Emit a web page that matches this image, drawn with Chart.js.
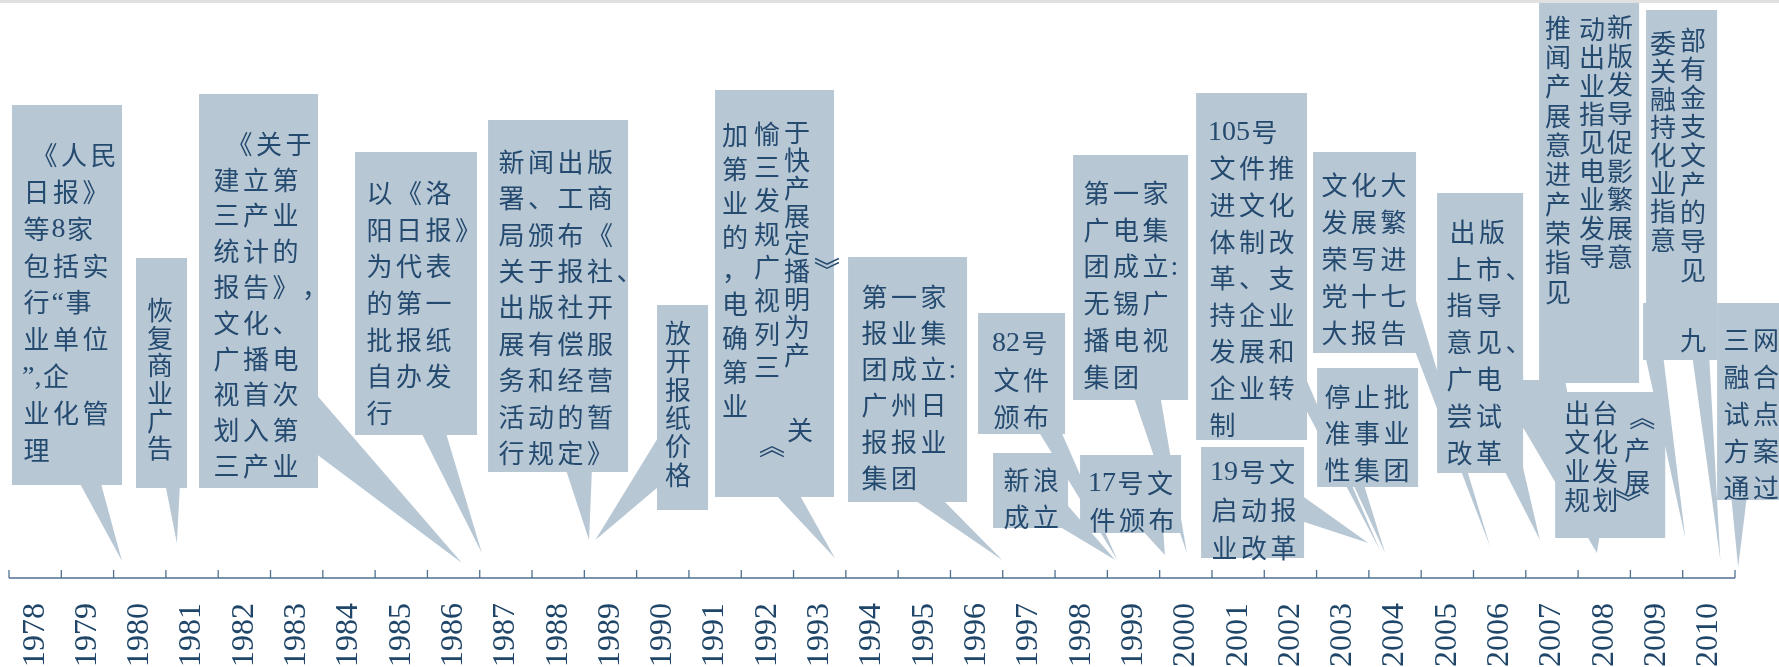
<!DOCTYPE html>
<html>
<head>
<meta charset="utf-8">
<script src="https://cdn.jsdelivr.net/npm/chart.js@4.4.1/dist/chart.umd.min.js"></script>
<style>
  html, body { margin: 0; padding: 0; background: #fff; }
  #wrap { width: 1779px; height: 667px; position: relative; }
</style>
</head>
<body>
<div id="wrap"><canvas id="timeline"></canvas></div>
<script>
// tick labels on the time axis
const years = ['1978', '1979', '1980', '1981', '1982', '1983', '1984', '1985', '1986', '1987',
  '1988', '1989', '1990', '1991', '1992', '1993', '1994', '1995', '1996', '1997', '1998',
  '1999', '2000', '2001', '2002', '2003', '2004', '2005', '2006', '2007', '2008', '2009', '2010'];

// where each callout points on the axis (year position, height above the axis)
const tipYear = [1979.66, 1980.71, 1986.16, 1986.54, 1988.59, 1988.71, 1993.29, 1996.49,
  1998.69, 1998.65, 1999.60, 2000.02, 2003.71, 2003.49, 2005.82, 2003.81, 2006.77,
  2007.86, 2009.55, 2010.22, 2010.56, 2007.86];
const tipHeight = [17, 35, 15, 25, 38, 38, 20, 18, 18, 18, 23, 25, 28, 35, 31, 25, 38, 25, 40, 18, 11, 25];

// callout box extents: [year left, year right, top, bottom] (height above axis)
const boxes = [
  [1977.557, 1979.661, 473, 93], [1979.928, 1980.903, 320, 90], [1981.133, 1983.408, 484, 90],
  [1984.116, 1986.448, 426, 143], [1986.659, 1989.336, 458, 106], [1989.890, 1990.865, 273, 68],
  [1990.999, 1993.274, 488, 81], [1993.542, 1995.817, 321, 76], [1996.028, 1997.691, 265, 144],
  [1996.315, 1997.749, 125, 50], [1997.978, 1999.909, 123, 45], [1997.844, 2000.043, 423, 178],
  [2000.196, 2002.318, 485, 138], [2000.292, 2002.261, 131, 20], [2002.433, 2004.402, 426, 225],
  [2002.510, 2004.441, 210, 91], [2004.804, 2006.449, 385, 105], [2006.754, 2008.666, 575, 195],
  [2008.800, 2010.158, 568, 218], [2008.743, 2010.158, 275, 218], [2010.158, 2011.344, 275, 78],
  [2007.062, 2009.166, 186, 40]
];
// pointer base: two points [year, height, year, height]
const bases = [
  [1978.819, 98, 1979.240, 98], [1980.483, 95, 1980.770, 95], [1983.35, 185, 1983.35, 125],
  [1985.358, 148, 1985.837, 148], [1988.131, 111, 1988.647, 111], [1990.0, 148, 1990.0, 95],
  [1992.108, 86, 1992.586, 86], [1994.728, 81, 1995.301, 81], [1997.156, 149, 1997.596, 149],
  [1997.6, 81, 1997.6, 51], [1999.125, 50, 1999.565, 50], [1998.991, 183, 1999.508, 183],
  [2002.2, 211, 2002.2, 178], [2002.15, 85, 2002.15, 58], [2004.3, 295, 2004.3, 238],
  [2003.179, 96, 2003.389, 96], [2006.066, 110, 2006.449, 110], [2005.913, 198, 2007.251, 198],
  [2008.781, 223, 2009.125, 223], [2009.680, 223, 2010.005, 223], [2010.425, 83, 2010.731, 83],
  [2007.729, 45, 2007.921, 45]
];

// callout texts; h = horizontal lines, v = vertical columns [dx, dy, step, chars]
const texts = [
  { dx: 10, dy: 50, lh: 36.9, indent: 8, h: ['《人民', '日报》', '等8家', '包括实', '行“事', '业单位', '”,企', '业化管', '理'] },
  { v: [[24, 52, 27.7, '恢复商业广告']] },
  { dx: 13, dy: 50, lh: 35.8, indent: 13, h: ['《关于', '建立第', '三产业', '统计的', '报告》，', '文化、', '广播电', '视首次', '划入第', '三产业'] },
  { dx: 10, dy: 41, lh: 36.7, h: ['以《洛', '阳日报》', '为代表', '的第一', '批报纸', '自办发', '行'] },
  { dx: 9, dy: 42, lh: 36.4, h: ['新闻出版', '署、工商', '局颁布《', '关于报社、', '出版社开', '展有偿服', '务和经营', '活动的暂', '行规定》'] },
  { v: [[21, 28, 28.4, '放开报纸价格']] },
  { v: [[82, 42, 27.9, '于快产展定播明为产'], [52, 44, 33.3, '愉三发规广视列三'], [20, 45, 33.9, '加第业的，电确第业']],
    extra: [[112, 180, '︾'], [85, 340, '关'], [57, 355, '︽']] },
  { dx: 12, dy: 40, lh: 36.2, h: ['第一家', '报业集', '团成立:', '广州日', '报报业', '集团'] },
  { dx: 14, dy: 30, lh: 37, h: ['82号', '文件', '颁布'] },
  { dx: 9, dy: 27, lh: 37, h: ['新浪', '成立'] },
  { dx: 8, dy: 28, lh: 37, h: ['17号文', '件颁布'] },
  { dx: 9, dy: 38, lh: 36.8, h: ['第一家', '广电集', '团成立:', '无锡广', '播电视', '集团'] },
  { dx: 12, dy: 39, lh: 36.6, h: ['105号', '文件推', '进文化', '体制改', '革、支', '持企业', '发展和', '企业转', '制'] },
  { dx: 9, dy: 25, lh: 38, h: ['19号文', '启动报', '业改革'] },
  { dx: 7, dy: 33, lh: 37, h: ['文化大', '发展繁', '荣写进', '党十七', '大报告'] },
  { dx: 6, dy: 29, lh: 36.5, h: ['停止批', '准事业', '性集团'] },
  { dx: 8, dy: 39, lh: 36.8, indent: 3, h: ['出版', '上市、', '指导', '意见、', '广电', '尝试', '改革'] },
  { v: [[81, 24, 28.75, '新版发导促影繁展意'], [53, 26, 28.4, '动出业指见电业发导'], [19, 25, 29.3, '推闻产展意进产荣指见']] },
  { v: [[47, 30, 28.75, '部有金支文产的导见'], [17, 33, 28.1, '委关融持化业指意']], extra: [[47, 330, '九']] },
  {},
  { dx: 5, dy: 37, lh: 37, h: ['三网', '融合', '试点', '方案', '通过'] },
  { v: [[22, 21, 29, '出文业规'], [50, 21, 29, '台化发划']],
    extra: [[87, 25, '︽'], [82, 58, '产'], [82, 90, '展'], [73, 110, '︾']] }
];

const BOX_COLOR = '#b8c7d4';
const TEXT_COLOR = '#244a6f';
const AXIS_COLOR = '#4f7090';
const CJK_FONT = '26px "Noto Sans CJK SC"';
const LATIN_FONT = '28px "Liberation Serif"';
const CELL = 29.5;

function isCJK(ch) {
  return ch.charCodeAt(0) >= 0x2E80;
}

const calloutPlugin = {
  id: 'callouts',
  afterDatasetsDraw(chart) {
    const ctx = chart.ctx;
    const xs = chart.scales.xv;
    const ys = chart.scales.y;
    const X = (v) => xs.getPixelForValue(v);
    const Y = (v) => ys.getPixelForValue(v);
    const pts = chart.getDatasetMeta(0).data;
    ctx.save();

    // thin grey band at the top edge
    ctx.fillStyle = '#e0e0e0';
    ctx.fillRect(0, 0, chart.width, 3);

    // pointers and boxes
    ctx.fillStyle = BOX_COLOR;
    boxes.forEach((b, i) => {
      const p = pts[i];
      const s = bases[i];
      ctx.beginPath();
      ctx.moveTo(X(s[0]), Y(s[1]));
      ctx.lineTo(X(s[2]), Y(s[3]));
      ctx.lineTo(p.x, p.y);
      ctx.closePath();
      ctx.fill();
      const x0 = X(b[0]), x1 = X(b[1]), y0 = Y(b[2]), y1 = Y(b[3]);
      ctx.fillRect(x0, y0, x1 - x0, y1 - y0);
    });

    // texts
    ctx.fillStyle = TEXT_COLOR;
    ctx.textBaseline = 'middle';
    boxes.forEach((b, i) => {
      const t = texts[i];
      const bx = X(b[0]), by = Y(b[2]);
      if (t.h) {
        ctx.textAlign = 'left';
        t.h.forEach((line, k) => {
          let x = bx + t.dx + (k === 0 ? (t.indent || 0) : 0);
          const y = by + t.dy + k * t.lh;
          for (const ch of line) {
            if (isCJK(ch)) {
              ctx.font = CJK_FONT;
              ctx.fillText(ch, x + 1.5, y);
              x += CELL;
            } else {
              ctx.font = LATIN_FONT;
              ctx.fillText(ch, x, y + 1);
              x += ctx.measureText(ch).width;
            }
          }
        });
      }
      if (t.v) {
        ctx.textAlign = 'center';
        ctx.font = CJK_FONT;
        t.v.forEach(([dx, dy, step, str]) => {
          [...str].forEach((ch, k) => {
            ctx.fillText(ch, bx + dx, by + dy + k * step);
          });
        });
      }
      if (t.extra) {
        ctx.textAlign = 'center';
        ctx.font = CJK_FONT;
        t.extra.forEach(([dx, dy, ch]) => ctx.fillText(ch, bx + dx, by + dy));
      }
    });

    // axis line with tick marks pointing up
    const y0 = Y(0);
    const left = X(1977.5);
    const right = X(1977.5 + years.length);
    ctx.strokeStyle = AXIS_COLOR;
    ctx.lineWidth = 1.6;
    ctx.beginPath();
    ctx.moveTo(left, y0);
    ctx.lineTo(right, y0);
    ctx.stroke();
    ctx.lineWidth = 1.3;
    ctx.beginPath();
    for (let k = 0; k <= years.length; k++) {
      const x = X(1977.5 + k);
      ctx.moveTo(x, y0);
      ctx.lineTo(x, y0 - 8);
    }
    ctx.stroke();
    ctx.restore();
  }
};

new Chart(document.getElementById('timeline'), {
  type: 'scatter',
  data: {
    datasets: [{
      data: tipYear.map((x, i) => ({ x: x, y: tipHeight[i] })),
      xAxisID: 'xv',
      yAxisID: 'y',
      pointRadius: 0,
      pointHoverRadius: 0
    }]
  },
  options: {
    responsive: true,
    maintainAspectRatio: false,
    animation: false,
    events: [],
    layout: { padding: { left: 9, right: 44, top: 0, bottom: 0 } },
    plugins: { legend: { display: false }, tooltip: { enabled: false } },
    scales: {
      x: {
        type: 'category',
        labels: years,
        offset: true,
        position: 'bottom',
        grid: { display: false, drawTicks: false },
        border: { display: false },
        ticks: {
          autoSkip: false,
          minRotation: 90,
          maxRotation: 90,
          padding: 25,
          color: '#1f4668',
          font: { family: 'Liberation Serif', size: 32 }
        },
        afterFit: (scale) => { scale.height = 89; }
      },
      xv: { type: 'linear', min: 1977.5, max: 2010.5, display: false },
      y: { type: 'linear', min: 0, max: 578, display: false }
    }
  },
  plugins: [calloutPlugin]
});
</script>
</body>
</html>
